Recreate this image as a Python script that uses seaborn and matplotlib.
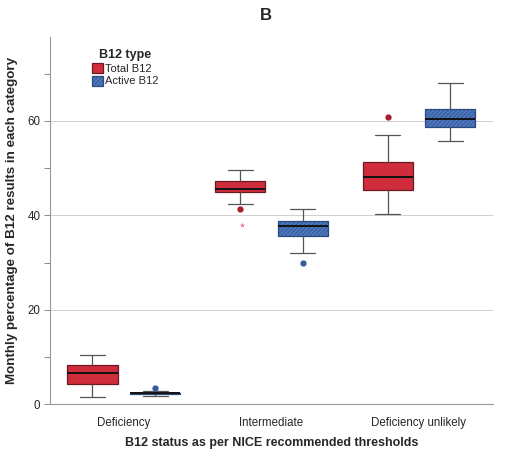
import numpy as np
import pandas as pd
import matplotlib
matplotlib.use("Agg")
import matplotlib.pyplot as plt
import seaborn as sns
from matplotlib.colors import to_rgb

# ---- data ----
categories = ["Deficiency", "Intermediate", "Deficiency unlikely"]
b12_types = ["Total B12", "Active B12"]

# box summaries per category, Total B12
total_whisker_low = [1.5, 42.3, 40.3]
total_q1 = [4.2, 45.0, 45.3]
total_median = [6.6, 45.6, 48.1]
total_q3 = [8.3, 47.3, 51.4]
total_whisker_high = [10.4, 49.6, 57.0]
total_outliers = [[], [41.3], [60.8]]
total_extremes = [[], [37.9], []]

# box summaries per category, Active B12
active_whisker_low = [1.7, 32.0, 55.7]
active_q1 = [2.05, 35.7, 58.8]
active_median = [2.25, 37.7, 60.4]
active_q3 = [2.4, 38.9, 62.6]
active_whisker_high = [2.7, 41.4, 68.0]
active_outliers = [[3.4], [29.8], []]
active_extremes = [[], [], []]

y_ticks = [0, 20, 40, 60]
y_minor = [10, 30, 50, 70]

RED = "#cf2d3c"
BLUE = "#4d78c0"


def summary_sample(lo, q1, med, q3, hi, outs):
    """Points whose quartiles / whiskers equal the read summary values."""
    low_out = [o for o in outs if o < q1]
    high_out = [o for o in outs if o > q3]
    low = low_out + [lo] * (3 - len(low_out))
    high = [hi] * (3 - len(high_out)) + high_out
    return low + [q1, q1, q1, med, q3, q3, q3] + high


rows = []
for i, cat in enumerate(categories):
    for v in summary_sample(total_whisker_low[i], total_q1[i], total_median[i],
                            total_q3[i], total_whisker_high[i], total_outliers[i]):
        rows.append((cat, "Total B12", v))
    for v in summary_sample(active_whisker_low[i], active_q1[i], active_median[i],
                            active_q3[i], active_whisker_high[i], active_outliers[i]):
        rows.append((cat, "Active B12", v))
df = pd.DataFrame(rows, columns=["status", "type", "value"])

ext_rows = []
for i, cat in enumerate(categories):
    for v in total_extremes[i]:
        ext_rows.append((cat, "Total B12", v))
    for v in active_extremes[i]:
        ext_rows.append((cat, "Active B12", v))
df_ext = pd.DataFrame(ext_rows, columns=["status", "type", "value"])

# ---- style ----
sns.set_theme(style="white")
plt.rcParams["font.family"] = ["Liberation Sans", "DejaVu Sans"]
plt.rcParams["hatch.linewidth"] = 0.45

fig = plt.figure(figsize=(5.16, 4.5), dpi=100)
ax = fig.add_axes([0.097, 0.102, 0.858, 0.816])

sns.boxplot(data=df, x="status", y="value", hue="type", order=categories,
            hue_order=b12_types, palette=[RED, BLUE], saturation=1,
            width=0.85, gap=0.2,
            linewidth=0.9, linecolor="#555555",
            medianprops=dict(color="#111111", linewidth=1.4),
            flierprops=dict(marker="o", markersize=3.5),
            ax=ax)

# extreme outliers drawn as stars
sns.stripplot(data=df_ext, x="status", y="value", hue="type", order=categories,
              hue_order=b12_types, palette=["#e8788a", "#6a8ad0"], dodge=True,
              jitter=False, marker="*", size=4, legend=False, ax=ax)

# style boxes: hatching on Active B12, darker edges
blue_rgb = np.array(to_rgb(BLUE))
red_rgb = np.array(to_rgb(RED))
HATCH = "////////"
for p in ax.patches:
    fc = np.array(p.get_facecolor()[:3])
    if np.allclose(fc, blue_rgb, atol=0.06):
        p.set_edgecolor("#2a4a80")
        p.set_hatch(HATCH)
    elif np.allclose(fc, red_rgb, atol=0.06):
        p.set_edgecolor("#6b1a22")

# color fliers by hue (left of category center -> Total)
for ln in ax.lines:
    if ln.get_marker() == "o":
        xd = np.asarray(ln.get_xdata(), dtype=float)
        if len(xd) == 0:
            continue
        if np.mean(xd - np.round(xd)) < 0:
            ln.set_markerfacecolor("#a51e2d")
            ln.set_markeredgecolor("#a51e2d")
        else:
            ln.set_markerfacecolor("#3a5a9c")
            ln.set_markeredgecolor("#3a5a9c")

# legend
handles, labels = ax.get_legend_handles_labels()
if ax.get_legend() is not None:
    ax.get_legend().remove()
for h, lab in zip(handles, labels):
    if lab == "Active B12":
        h.set_edgecolor("#2a4a80")
        h.set_hatch(HATCH)
    else:
        h.set_edgecolor("#6b1a22")
leg = ax.legend(handles[:2], labels[:2], title="B12 type", loc="upper left",
                bbox_to_anchor=(0.075, 0.99), frameon=False, fontsize=8,
                title_fontproperties={"weight": "bold", "size": 9},
                handlelength=1.0, handleheight=1.0, handletextpad=0.15,
                labelspacing=0.15, borderpad=0.3)

# axes
ax.set_xlim(-0.5, 2.5)
ax.set_ylim(0, 77.8)
ax.set_yticks(y_ticks)
ax.set_yticks(y_minor, minor=True)
ax.tick_params(axis="y", which="both", left=True, length=4, width=0.6,
               color="#777777", labelsize=8.3, pad=3)
ax.tick_params(axis="x", bottom=False, labelsize=8.3, pad=3)
ax.yaxis.grid(True, which="major", color="#d0d0d0", linewidth=0.7)
ax.set_axisbelow(True)
for s in ["top", "right"]:
    ax.spines[s].set_visible(False)
for s in ["left", "bottom"]:
    ax.spines[s].set_color("#999999")
    ax.spines[s].set_linewidth(0.8)

ax.set_xlabel("B12 status as per NICE recommended thresholds",
              fontsize=9, fontweight="bold", labelpad=6)
ax.set_ylabel("Monthly percentage of B12 results in each category",
              fontsize=9.6, fontweight="bold", labelpad=7)
fig.text(0.515, 0.965, "B", ha="center", va="center", fontsize=12,
         fontweight="bold")

fig.savefig("out.png", dpi=100)
